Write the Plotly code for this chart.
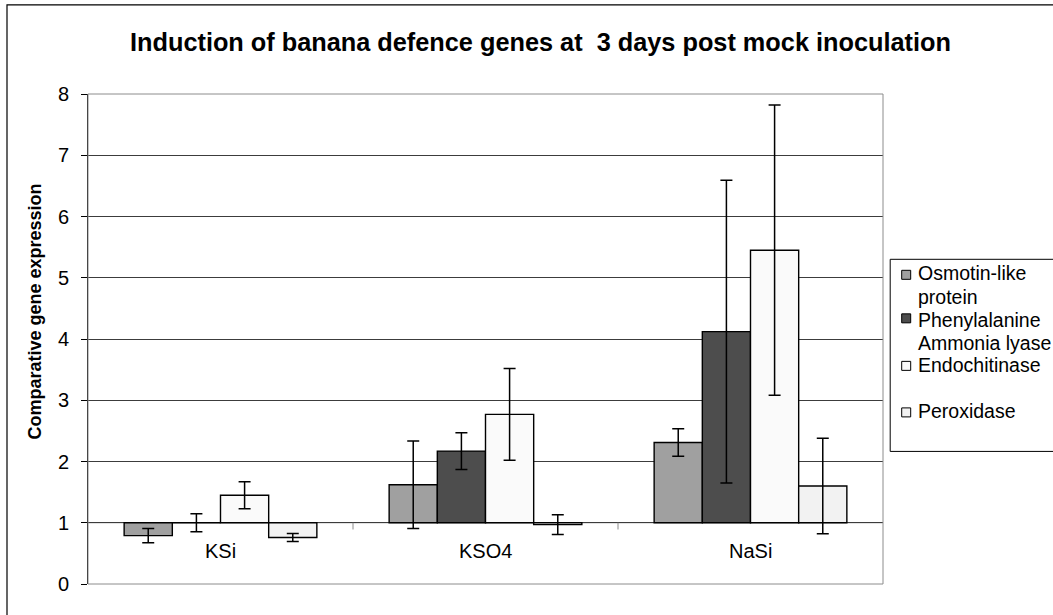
import plotly.graph_objects as go

categories = ["KSi", "KSO4", "NaSi"]
series_names = ["Osmotin-like protein", "Phenylalanine Ammonia lyase", "Endochitinase", "Peroxidase"]
legend_lines = [["Osmotin-like", "protein"], ["Phenylalanine", "Ammonia lyase"], ["Endochitinase"], ["Peroxidase"]]
osmotin = [0.79, 1.62, 2.31]
osmotin_err = [0.115, 0.715, 0.225]
pal = [1.00, 2.17, 4.12]
pal_err = [0.145, 0.30, 2.47]
endochitinase = [1.45, 2.77, 5.45]
endochitinase_err = [0.22, 0.75, 2.37]
peroxidase = [0.76, 0.97, 1.60]
peroxidase_err = [0.065, 0.16, 0.78]
baseline = 1
y_ticks = [0, 1, 2, 3, 4, 5, 6, 7, 8]

values = [osmotin, pal, endochitinase, peroxidase]
errors = [osmotin_err, pal_err, endochitinase_err, peroxidase_err]
colors = ["#a0a0a0", "#4d4d4d", "#fafafa", "#f2f2f2"]

FONT = "Arial, Liberation Sans, sans-serif"
W, H = 1053, 615
L, R, T, B = 88.3, 883.3, 94.3, 584.0


def px_x(x):
    return (x - L) / (R - L)


def px_y(y):
    return (B - y) / (B - T)


fig = go.Figure()
for name, vals, errs, col in zip(series_names, values, errors, colors):
    fig.add_trace(go.Bar(
        x=categories,
        y=[v - baseline for v in vals],
        base=[baseline] * len(vals),
        name=name,
        marker=dict(color=col, line=dict(color="black", width=1.4)),
        error_y=dict(type="data", array=errs, visible=True, color="black", thickness=1.5, width=6),
        showlegend=False,
    ))

shapes = []
# outer chart frame (right/bottom edges fall outside the picture)
shapes.append(dict(type="rect", xref="paper", yref="paper", x0=px_x(7.3), x1=px_x(1070), y0=px_y(630), y1=px_y(5.3),
                   line=dict(color="black", width=1.2), fillcolor="rgba(0,0,0,0)", layer="below"))
# plot-area border
shapes.append(dict(type="rect", xref="paper", yref="paper", x0=0, x1=1, y0=0, y1=1,
                   line=dict(color="#8c8c8c", width=1), layer="above"))
# category axis crossing at 1 with tick marks between categories
shapes.append(dict(type="line", xref="paper", yref="y", x0=0, x1=1, y0=baseline, y1=baseline,
                   line=dict(color="#8c8c8c", width=1), layer="below"))
for b in [0.5, 1.5]:
    shapes.append(dict(type="line", xref="x", yref="y", x0=b, x1=b, y0=baseline, y1=baseline - 0.11,
                       line=dict(color="#8c8c8c", width=1)))

# legend box
shapes.append(dict(type="rect", xref="paper", yref="paper", x0=px_x(890.5), x1=px_x(1070), y0=px_y(451.5), y1=px_y(259.5),
                   line=dict(color="black", width=1), fillcolor="white"))
square_centers = [275, 318.5, 366, 412.5]
line_centers = [[273.3, 296.7], [320, 343.3], [365.5], [411]]
annotations = []
for col, sc, lines, lc in zip(colors, square_centers, legend_lines, line_centers):
    shapes.append(dict(type="rect", xref="paper", yref="paper", x0=px_x(902), x1=px_x(911), y0=px_y(sc + 4.5), y1=px_y(sc - 4.5),
                       line=dict(color="black", width=1), fillcolor=col))
    for txt, yc in zip(lines, lc):
        annotations.append(dict(xref="paper", yref="paper", x=px_x(916.5), y=px_y(yc), text=txt, showarrow=False,
                                xanchor="left", yanchor="middle", font=dict(family=FONT, size=19.5, color="black")))

# category labels placed as in the original (above the plot bottom)
for c in categories:
    annotations.append(dict(xref="x", yref="y", x=c, y=0.54, text=c, showarrow=False,
                            xanchor="center", yanchor="middle", font=dict(family=FONT, size=20, color="black")))

# y axis title
annotations.append(dict(xref="paper", yref="paper", x=px_x(35), y=px_y(312), text="<b>Comparative gene expression</b>",
                        textangle=-90, showarrow=False, xanchor="center", yanchor="middle",
                        font=dict(family=FONT, size=18, color="black")))
# chart title
annotations.append(dict(xref="paper", yref="paper", x=px_x(540.7), y=px_y(42.5),
                        text="<b>Induction of banana defence genes at \u00a03 days post mock inoculation</b>",
                        showarrow=False, xanchor="center", yanchor="middle",
                        font=dict(family=FONT, size=25.3, color="black")))

fig.update_layout(
    width=W, height=H,
    margin=dict(l=L, r=W - R, t=T, b=H - B, pad=0),
    paper_bgcolor="white", plot_bgcolor="white",
    barmode="group", bargap=1.5 / 5.5, bargroupgap=0,
    shapes=shapes, annotations=annotations,
    showlegend=False,
    font=dict(family=FONT, color="black"),
)
fig.update_xaxes(type="category", range=[-0.5, 2.5], showticklabels=False, showgrid=False,
                 showline=False, zeroline=False, ticks="")
fig.update_yaxes(range=[0, 8], tickvals=y_ticks, showgrid=True, gridcolor="#3c3c3c", gridwidth=1,
                 showline=True, linecolor="black", linewidth=1, ticks="outside", ticklen=6, tickcolor="black",
                 tickfont=dict(family=FONT, size=20, color="black"), zeroline=False, ticklabelstandoff=8)

fig.write_html("out.html", config={"displayModeBar": False},
               post_script="document.body.style.margin='0';document.body.style.overflow='hidden';")
